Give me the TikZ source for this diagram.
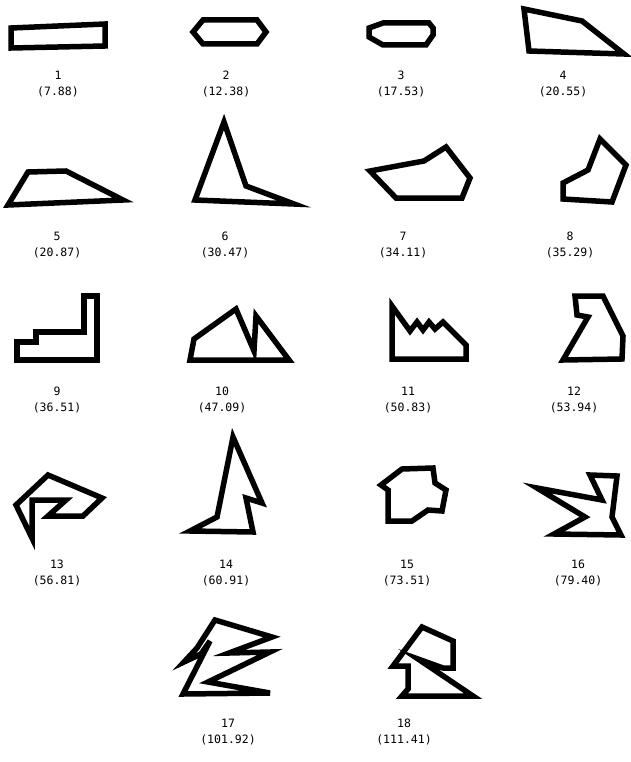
\documentclass[tikz,border=0pt]{standalone}
\usepackage{fontspec}
\setmonofont{DejaVu Sans Mono}
\usepackage{tikz}

\begin{document}
\begin{tikzpicture}[x=1pt,y=-1pt,
    shp/.style={line width=5.5pt},
    lab/.style={font=\fontsize{11.5}{16}\selectfont\ttfamily, align=center, inner sep=0pt}]
\useasboundingbox (0,0) rectangle (630,762);

% row 1
\draw[shp] (11,28) -- (105,24) -- (105,46) -- (11,48) -- cycle;
\draw[shp] (193,32) -- (203,20) -- (257,20) -- (266,32) -- (257,44) -- (203,44) -- cycle;
\draw[shp] (369,28) -- (383,23) -- (429,23) -- (433,28) -- (433,35) -- (426,45) -- (383,45) -- (369,37) -- cycle;
\draw[shp] (524,9) -- (582,21) -- (624,54) -- (529,51) -- cycle;
\node[lab] (l1) at (58,84) {1\\(7.88)};
\node[lab] (l2) at (226,84) {2\\(12.38)};
\node[lab] (l3) at (401,84) {3\\(17.53)};
\node[lab] (l4) at (563,84) {4\\(20.55)};

% row 2
\draw[shp] (8,205) -- (28,172) -- (66,171) -- (123,200) -- cycle;
\draw[shp] (224,122) -- (246,186) -- (294,204) -- (195,200) -- cycle;
\draw[shp] (370,171) -- (424,161) -- (446,147) -- (470,178) -- (462,198) -- (396,198) -- cycle;
\draw[shp] (600,139) -- (626,165) -- (612,202) -- (563,199) -- (563,183) -- (588,170) -- cycle;
\node[lab] (l5) at (57,245) {5\\(20.87)};
\node[lab] (l6) at (225,245) {6\\(30.47)};
\node[lab] (l7) at (403,245) {7\\(34.11)};
\node[lab] (l8) at (570,245) {8\\(35.29)};

% row 3
\draw[shp] (17,360) -- (17,342) -- (36,342) -- (36,332) -- (84,332) -- (84,296) -- (97,296) -- (97,360) -- cycle;
\draw[shp] (190,360) -- (194,339) -- (236,309) -- (254,351) -- (256,316) -- (289,360) -- cycle;
\draw[shp] (392,306) -- (410,331) -- (417,322) -- (423,330) -- (429,322) -- (435,329) -- (443,322) -- (466,345) -- (466,359) -- (392,359) -- cycle;
\draw[shp] (575,296) -- (603,296) -- (623,336) -- (622,359) -- (563,360) -- (588,317) -- (577,315) -- cycle;
\node[lab] (l9) at (57,400) {9\\(36.51)};
\node[lab] (l10) at (222,400) {10\\(47.09)};
\node[lab] (l11) at (408,400) {11\\(50.83)};
\node[lab] (l12) at (574,400) {12\\(53.94)};

% row 4
\draw[shp] (48,475) -- (102,498) -- (83,516) -- (48,516) -- (66,500) -- (32,500) -- (32,538) -- (16,505) -- cycle;
\draw[shp] (233,437) -- (262,503) -- (246,498) -- (253,532) -- (190,531) -- (217,517) -- cycle;
\draw[shp] (381,485) -- (402,469) -- (433,468) -- (435,483) -- (446,490) -- (442,511) -- (428,510) -- (412,521) -- (388,521) -- (388,490) -- cycle;
\draw[shp] (537,488) -- (602,500) -- (590,475) -- (617,476) -- (612,517) -- (621,535) -- (554,534) -- (585,517) -- cycle;
\node[lab] (l13) at (57,573) {13\\(56.81)};
\node[lab] (l14) at (226,573) {14\\(60.91)};
\node[lab] (l15) at (407,573) {15\\(73.51)};
\node[lab] (l16) at (578,573) {16\\(79.40)};

% row 5
\draw[shp] (215,620) -- (272,637) -- (229,653) -- (270,652) -- (208,682) -- (270,693) -- (183,694) -- (210,641) -- (201,654) -- (184,662) -- (197,648) -- cycle;
\draw[shp] (422,627) -- (453,641) -- (453,668) -- (443,668) -- (418,659) -- (473,696) -- (402,696) -- (408,689) -- (408,666) -- (393,666) -- cycle;
\node[lab] (l17) at (228,732) {17\\(101.92)};
\node[lab] (l18) at (404,732) {18\\(111.41)};
\end{tikzpicture}
\end{document}
